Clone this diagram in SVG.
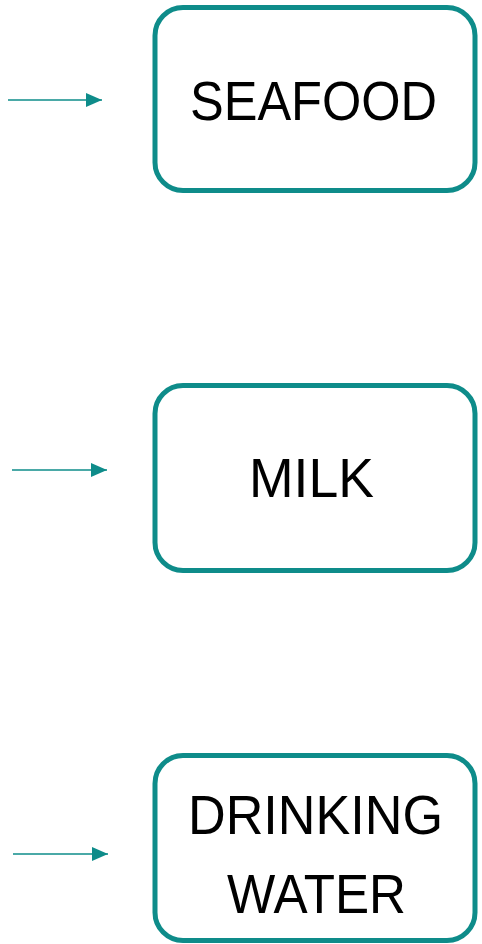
<svg xmlns="http://www.w3.org/2000/svg" width="482" height="944" viewBox="0 0 482 944">
<style>
.box{fill:#ffffff;stroke:#0E8C8A;stroke-width:5}
.lbl{font-family:"Liberation Sans",Arial,sans-serif;font-size:56px;fill:#000000}
.conn{stroke:#0E8C8A;stroke-width:1.5;fill:none}
</style>
<defs>
<marker id="ah" markerUnits="userSpaceOnUse" markerWidth="16" markerHeight="16" viewBox="0 0 16 14" refX="16" refY="7" orient="auto">
<path d="M0,0 L16,7 L0,14 Z" fill="#0E8C8A"/>
</marker>
</defs>
<rect width="482" height="944" fill="#ffffff"/>
<g id="connectors">
<line class="conn" x1="8" y1="100" x2="102" y2="100" marker-end="url(#ah)"/>
<line class="conn" x1="12" y1="470" x2="107" y2="470" marker-end="url(#ah)"/>
<line class="conn" x1="13" y1="854" x2="108" y2="854" marker-end="url(#ah)"/>
</g>
<g id="seafood">
<rect class="box" x="155" y="7.5" width="320" height="183" rx="28"/>
<text class="lbl" x="190" y="120" textLength="247" lengthAdjust="spacingAndGlyphs">SEAFOOD</text>
</g>
<g id="milk">
<rect class="box" x="155" y="385.5" width="320" height="185" rx="28"/>
<text class="lbl" x="249" y="497" textLength="125" lengthAdjust="spacingAndGlyphs">MILK</text>
</g>
<g id="drinking-water">
<rect class="box" x="155" y="755.5" width="320" height="185" rx="28"/>
<text class="lbl" x="188" y="834" textLength="255" lengthAdjust="spacingAndGlyphs">DRINKING</text>
<text class="lbl" x="227" y="913" textLength="179" lengthAdjust="spacingAndGlyphs">WATER</text>
</g>
</svg>
